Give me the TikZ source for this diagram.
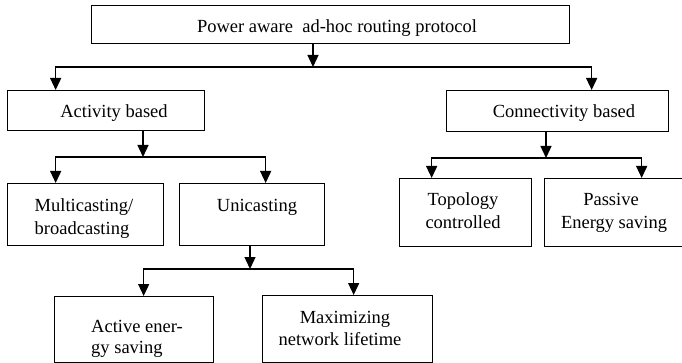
\documentclass[tikz,border=0pt]{standalone}
\usepackage{fontspec}
\setmainfont{Liberation Serif}
\usetikzlibrary{arrows.meta}
\tikzset{
  box/.style={draw, line width=1.3pt, inner sep=0pt, anchor=north west},
  txt/.style={anchor=base, inner sep=0pt, font=\fontsize{18.5}{22}\selectfont},
  txtw/.style={txt, anchor=base west},
  arr/.style={line width=1.3pt, -{Triangle[length=12pt,width=11pt]}}
}
\begin{document}
\begin{tikzpicture}[x=1pt,y=-1pt]
\useasboundingbox (0,0) rectangle (682,363);
\clip (0,0) rectangle (682,363);
% boxes
\node[box, minimum width=478pt, minimum height=38pt] (root) at (91,5) {};
\node[box, minimum width=197pt, minimum height=40pt] (act) at (7,90) {};
\node[box, minimum width=222pt, minimum height=41pt] (con) at (446,90) {};
\node[box, minimum width=156pt, minimum height=62pt] (mul) at (7,183) {};
\node[box, minimum width=145pt, minimum height=62pt] (uni) at (179,183) {};
\node[box, minimum width=132pt, minimum height=68pt] (topo) at (399,178) {};
\node[box, minimum width=150pt, minimum height=68pt] (pas) at (544,178) {};
\node[box, minimum width=159pt, minimum height=66pt] (aes) at (54,296) {};
\node[box, minimum width=170pt, minimum height=67pt] (max) at (262,295) {};
% texts
\node[txt] (t1) at (337,33) {Power aware\ \ ad-hoc routing protocol};
\node[txt] (t2) at (114,118) {Activity based};
\node[txt] (t3) at (564,118) {Connectivity based};
\node[txt] (t4a) at (84,212) {Multicasting/};
\node[txt] (t4b) at (82,235) {broadcasting};
\node[txt] (t5) at (257,212) {Unicasting};
\node[txt] (t6a) at (463,206) {Topology};
\node[txt] (t6b) at (463,229) {controlled};
\node[txt] (t7a) at (611,206) {Passive};
\node[txt] (t7b) at (614,229) {Energy saving};
\node[txtw] (t8a) at (91,332) {Active ener-};
\node[txtw] (t8b) at (91,353) {gy saving};
\node[txt] (t9a) at (345,323) {Maximizing};
\node[txt] (t9b) at (340,345) {network lifetime};
% junctions
\coordinate (j1) at (313,67);
\coordinate (j2) at (143,157);
\coordinate (j3) at (546,158);
\coordinate (j4) at (250,269);
% connectors
\draw[arr] (j1 |- root.south) -- (j1);
\draw[arr] (j1) -| ([xshift=-50.5pt]act.north);
\draw[arr] (j1) -| ([xshift=34pt]con.north);
\draw[arr] (j2 |- act.south) -- (j2);
\draw[arr] (j2) -| ([xshift=-30pt]mul.north);
\draw[arr] (j2) -| ([xshift=13.5pt]uni.north);
\draw[arr] (j3 |- con.south) -- (j3);
\draw[arr] (j3) -| ([xshift=-34pt]topo.north);
\draw[arr] (j3) -| ([xshift=22pt]pas.north);
\draw[arr] (j4 |- uni.south) -- (j4);
\draw[arr] (j4) -| ([xshift=9.5pt]aes.north);
\draw[arr] (j4) -| ([xshift=6pt]max.north);
\end{tikzpicture}
\end{document}
